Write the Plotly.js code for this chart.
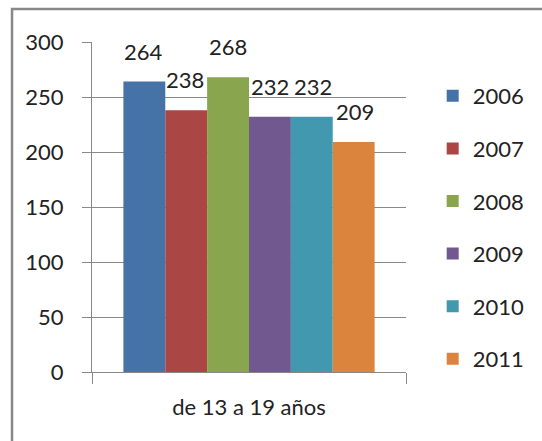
<!DOCTYPE html>
<html><head><meta charset="utf-8">
<script src="https://cdn.plot.ly/plotly-3.0.1.min.js"></script>
<style>html,body{margin:0;padding:0;background:#fff;}#chart{width:542px;height:441px;}</style>
</head><body><div id="chart"></div>
<script>
const category = ["de 13 a 19 años"];
const years = ["2006", "2007", "2008", "2009", "2010", "2011"];
const values = [264, 238, 268, 232, 232, 209];
const colors = ["#4572A7", "#AA4643", "#89A54E", "#71588F", "#4198AF", "#DB843D"];
const yTicks = [0, 50, 100, 150, 200, 250, 300];

const FONT = "Lato, 'Open Sans', sans-serif";
const FS = 22;
const traces = years.map((y, i) => ({
  type: "bar",
  name: y,
  x: category,
  y: [values[i]],
  marker: {color: colors[i]},
  legendgroup: y,
  hoverinfo: "none"
}));

// value labels placed above each bar of the group
const plotW = 318, nBars = years.length, groupW = plotW * 0.8, barW = groupW / nBars;
const annotations = years.map((y, i) => ({
  xref: "x", yref: "y", x: category[0], y: values[i],
  xshift: (i - (nBars - 1) / 2) * barW, yshift: 15,
  yanchor: "bottom", xanchor: "center", showarrow: false,
  text: String(values[i]), font: {family: FONT, size: FS, color: "#222"}
}));

const layout = {
  width: 542, height: 441,
  margin: {l: 92, r: 132, t: 42, b: 69, pad: 0},
  paper_bgcolor: "#fff", plot_bgcolor: "#fff",
  font: {family: FONT, size: FS, color: "#222"},
  barmode: "group", bargap: 0.2, bargroupgap: 0,
  showlegend: true,
  legend: {x: 1.085, y: 0.9, xanchor: "left", yanchor: "top", tracegroupgap: 21,
           font: {family: FONT, size: FS, color: "#222"}, bgcolor: "rgba(0,0,0,0)"},
  xaxis: {showline: true, linecolor: "#888", linewidth: 1, ticks: "outside", tickson: "boundaries",
          ticklen: 11, tickcolor: "#888", showgrid: false, tickfont: {size: FS}, ticklabelstandoff: 16},
  yaxis: {range: [0, 300], tickvals: yTicks, showgrid: true, gridcolor: "#888", gridwidth: 1,
          showline: true, linecolor: "#888", ticks: "outside", ticklen: 9, tickcolor: "#888",
          zeroline: false, tickfont: {size: FS}, ticklabelstandoff: 14},
  annotations: annotations,
  shapes: [{type: "rect", xref: "paper", yref: "paper", x0: -0.2547, x1: 1.6, y0: -0.4, y1: 1.1,
            line: {color: "#888", width: 2.5}, fillcolor: "rgba(0,0,0,0)", layer: "below"}]
};
Plotly.newPlot("chart", traces, layout, {staticPlot: true, displayModeBar: false});
</script></body></html>
